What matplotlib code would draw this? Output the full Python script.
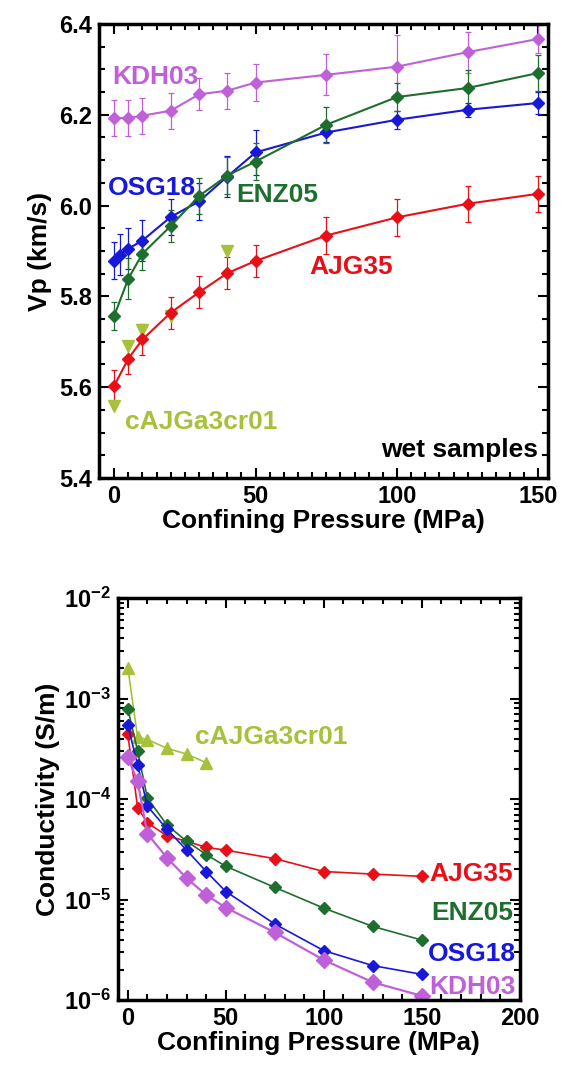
import matplotlib
matplotlib.use('Agg')
import matplotlib.pyplot as plt
from matplotlib.ticker import MultipleLocator, LogLocator, FixedLocator, NullFormatter, FormatStrFormatter
import numpy as np

plt.rcParams['font.family'] = ['Liberation Sans', 'DejaVu Sans']
plt.rcParams['font.weight'] = 'bold'
plt.rcParams['mathtext.fontset'] = 'custom'
plt.rcParams['mathtext.rm'] = 'Liberation Sans:bold'
plt.rcParams['mathtext.bf'] = 'Liberation Sans:bold'
plt.rcParams['mathtext.default'] = 'rm'

# colours of the samples
c_kdh = '#c060d8'
c_enz = '#1e6e2e'
c_osg = '#1818d8'
c_ajg = '#e81018'
c_caj = '#a6c23a'

# ---- top panel: Vp vs confining pressure ----
p_std = [0, 5, 10, 20, 30, 40, 50, 75, 100, 125, 150]
p_osg = [0, 2, 5, 10, 20, 30, 40, 50, 75, 100, 125, 150]

vp_kdh = [6.193, 6.193, 6.198, 6.209, 6.245, 6.253, 6.271, 6.288, 6.306, 6.338, 6.367]
err_kdh = [0.04, 0.04, 0.04, 0.04, 0.035, 0.04, 0.04, 0.045, 0.07, 0.045, 0.03]

vp_enz = [5.757, 5.839, 5.894, 5.955, 6.021, 6.066, 6.097, 6.178, 6.239, 6.259, 6.292]
err_enz = [0.03, 0.045, 0.035, 0.035, 0.04, 0.04, 0.04, 0.04, 0.03, 0.04, 0.04]

vp_osg = [5.879, 5.892, 5.905, 5.923, 5.975, 6.009, 6.064, 6.117, 6.161, 6.189, 6.211, 6.226]
err_osg = [0.04, 0.045, 0.045, 0.045, 0.04, 0.04, 0.045, 0.05, 0.02, 0.02, 0.015, 0.025]

vp_ajg = [5.603, 5.663, 5.705, 5.764, 5.809, 5.851, 5.878, 5.934, 5.974, 6.004, 6.026]
err_ajg = [0.035, 0.035, 0.035, 0.035, 0.035, 0.035, 0.035, 0.04, 0.04, 0.04, 0.04]

p_caj_vp = [0, 5, 10, 20, 40]
vp_caj = [5.559, 5.691, 5.727, 5.757, 5.900]

# ---- bottom panel: conductivity vs confining pressure ----
p_caj_s = [0, 5, 10, 20, 30, 40]
s_caj = [2.03e-3, 4.1e-4, 3.9e-4, 3.2e-4, 2.8e-4, 2.3e-4]
s_ajg = [4.4e-4, 8.2e-5, 5.8e-5, 4.3e-5, 3.8e-5, 3.3e-5, 3.1e-5, 2.55e-5, 1.9e-5, 1.79e-5, 1.7e-5]
s_enz = [7.9e-4, 3.0e-4, 1.02e-4, 5.5e-5, 3.8e-5, 2.8e-5, 2.14e-5, 1.32e-5, 8.2e-6, 5.4e-6, 3.95e-6]
s_osg = [5.4e-4, 2.2e-4, 8.5e-5, 5.0e-5, 3.1e-5, 1.9e-5, 1.2e-5, 5.7e-6, 3.1e-6, 2.2e-6, 1.8e-6]
s_kdh = [2.6e-4, 1.5e-4, 4.5e-5, 2.6e-5, 1.63e-5, 1.11e-5, 8.3e-6, 4.7e-6, 2.5e-6, 1.5e-6, 1.1e-6]

fig = plt.figure(figsize=(5.62, 10.70), dpi=100)

ax1 = fig.add_axes([0.1755, 0.5533, 0.80, 0.4243])
ek = dict(lw=1.5, elinewidth=0.9, capsize=2.5, capthick=0.9, marker='D', ms=6)
ax1.errorbar(p_std, vp_kdh, yerr=err_kdh, color=c_kdh, **ek)
ax1.errorbar(p_osg, vp_osg, yerr=err_osg, color=c_osg, **ek)
ax1.errorbar(p_std, vp_enz, yerr=err_enz, color=c_enz, **ek)
ax1.errorbar(p_std, vp_ajg, yerr=err_ajg, color=c_ajg, **ek)
ax1.plot(p_caj_vp, vp_caj, 'v', color=c_caj, ms=9, ls='none')

ax1.set_xlim(-5.5, 153.5)
ax1.set_ylim(5.4, 6.4)
ax1.xaxis.set_major_locator(FixedLocator([0, 50, 100, 150]))
ax1.xaxis.set_minor_locator(MultipleLocator(5))
ax1.yaxis.set_major_locator(MultipleLocator(0.2))
ax1.yaxis.set_minor_locator(MultipleLocator(0.05))
ax1.yaxis.set_major_formatter(FormatStrFormatter('%.1f'))
ax1.set_xlabel('Confining Pressure (MPa)', fontsize=19, fontweight='bold', labelpad=1)
ax1.set_ylabel('Vp (km/s)', fontsize=19, fontweight='bold', labelpad=5)

lab = dict(fontsize=19, fontweight='bold', va='center')
ax1.text(-0.7, 6.283, 'KDH03', color=c_kdh, ha='left', **lab)
ax1.text(-2.1, 6.039, 'OSG18', color=c_osg, ha='left', **lab)
ax1.text(43, 6.024, 'ENZ05', color=c_enz, ha='left', **lab)
ax1.text(69, 5.864, 'AJG35', color=c_ajg, ha='left', **lab)
ax1.text(3.8, 5.523, 'cAJGa3cr01', color=c_caj, ha='left', **lab)
ax1.text(150, 5.462, 'wet samples', color='black', ha='right', **lab)

ax2 = fig.add_axes([0.21, 0.0654, 0.715, 0.3757])
ax2.set_yscale('log')
ax2.plot(p_caj_s, s_caj, '^-', color=c_caj, lw=1.2, ms=9)
ax2.plot(p_std, s_ajg, 'D-', color=c_ajg, lw=1.2, ms=6)
ax2.plot(p_std, s_enz, 'D-', color=c_enz, lw=1.2, ms=6)
ax2.plot(p_std, s_osg, 'D-', color=c_osg, lw=1.2, ms=6)
ax2.plot(p_std, s_kdh, 'D-', color=c_kdh, lw=1.6, ms=8)

ax2.set_xlim(-5, 200)
ax2.set_ylim(1e-6, 1e-2)
ax2.xaxis.set_major_locator(MultipleLocator(50))
ax2.xaxis.set_minor_locator(MultipleLocator(10))
ax2.yaxis.set_major_locator(LogLocator(base=10, numticks=10))
ax2.yaxis.set_minor_locator(LogLocator(base=10, subs=np.arange(2, 10), numticks=20))
ax2.yaxis.set_minor_formatter(NullFormatter())
ax2.set_xlabel('Confining Pressure (MPa)', fontsize=19, fontweight='bold', labelpad=1)
ax2.set_ylabel('Conductivity (S/m)', fontsize=19, fontweight='bold', labelpad=3)

ax2.text(34.5, 4.1e-4, 'cAJGa3cr01', color=c_caj, ha='left', **lab)
ax2.text(154, 1.78e-5, 'AJG35', color=c_ajg, ha='left', **lab)
ax2.text(155, 7.4e-6, 'ENZ05', color=c_enz, ha='left', **lab)
ax2.text(153, 2.9e-6, 'OSG18', color=c_osg, ha='left', **lab)
ax2.text(154, 1.35e-6, 'KDH03', color=c_kdh, ha='left', **lab)

for ax in (ax1, ax2):
    for sp in ax.spines.values():
        sp.set_linewidth(2.5)
    ax.tick_params(which='both', direction='in', top=True, right=True, width=1.5)
    ax.tick_params(which='major', length=7, labelsize=17, pad=5)
    ax.tick_params(which='minor', length=4)
    for t in ax.get_xticklabels() + ax.get_yticklabels():
        t.set_fontweight('bold')

fig.savefig('out.png', dpi=100)
